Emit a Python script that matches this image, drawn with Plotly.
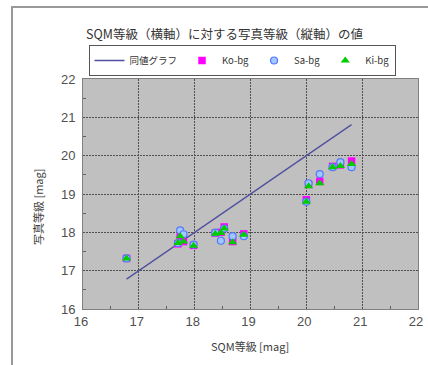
import plotly.graph_objects as go

sqm = [16.78, 17.70, 17.74, 17.80, 17.98, 18.37, 18.47, 18.53, 18.68, 18.88,
       20.00, 20.04, 20.24, 20.47, 20.61, 20.81]
ko_bg = [17.32, 17.70, 17.92, 17.76, 17.66, 17.98, 18.00, 18.14, 17.76, 17.96,
         18.85, 19.25, 19.33, 19.72, 19.76, 19.86]
sa_bg = [17.32, 17.72, 18.05, 17.95, 17.68, 17.99, 17.78, 18.10, 17.90, 17.90,
         18.80, 19.28, 19.52, 19.70, 19.83, 19.70]
ki_bg = [17.32, 17.72, 17.90, 17.76, 17.65, 17.96, 17.98, 18.10, 17.74, 17.94,
         18.80, 19.20, 19.28, 19.70, 19.73, 19.78]
line_x = [16.78, 20.81]
line_y = [16.78, 20.81]

jp = "Noto Sans CJK JP"
W, H = 428, 365
L, T = 83, 79
R = W - 418
B = H - 309
PW, PH = W - L - R, H - T - B


def px_x(p):
    return (p - L) / PW


def px_y(p):
    return (H - B - p) / PH


fig = go.Figure()
fig.add_trace(go.Scatter(x=line_x, y=line_y, mode="lines", name="同値グラフ",
                         line=dict(color="#5050A0", width=1.3)))
fig.add_trace(go.Scatter(x=sqm, y=ko_bg, mode="markers", name="Ko-bg",
                         marker=dict(symbol="square", size=7.5, color="#FF00FF",
                                     line=dict(width=0))))
fig.add_trace(go.Scatter(x=sqm, y=sa_bg, mode="markers", name="Sa-bg",
                         marker=dict(symbol="circle", size=7, color="#A0C8FF",
                                     line=dict(width=1.2, color="#5577FF"))))
fig.add_trace(go.Scatter(x=sqm, y=ki_bg, mode="markers", name="Ki-bg",
                         marker=dict(symbol="triangle-up", size=8, color="#00CC00",
                                     line=dict(width=0))))

axis_common = dict(
    showgrid=True, gridcolor="#505050", griddash="2px,1px", gridwidth=1,
    showline=True, linecolor="#808080", linewidth=1, mirror=True,
    zeroline=False, ticks="", dtick=1, automargin=False,
    ticklabeloverflow="allow",
    tickfont=dict(family="Liberation Sans", size=13, color="#505050"),
    minor=dict(ticks="inside", dtick=0.5, ticklen=3, tickcolor="#606060", showgrid=False),
)
fig.update_xaxes(range=[16, 22], tick0=16, ticklabelshift=-2, **axis_common)
fig.update_yaxes(range=[16, 22], tick0=16, ticklabelstandoff=4, **axis_common)

fig.update_layout(
    width=W, height=H,
    margin=dict(l=L, r=R, t=T, b=B, autoexpand=False),
    paper_bgcolor="white", plot_bgcolor="#C0C0C0",
    legend=dict(orientation="h", x=px_x(242), xanchor="center", y=px_y(45), yanchor="top",
                bgcolor="white", bordercolor="#555555", borderwidth=1,
                font=dict(family=jp, size=9.5, color="#333333"),
                itemwidth=30, tracegroupgap=0),
    showlegend=True,
    annotations=[
        dict(text="SQM等級（横軸）に対する写真等級（縦軸）の値", xref="paper", yref="paper",
             x=px_x(224), y=px_y(33), xanchor="center", yanchor="middle", showarrow=False,
             font=dict(family=jp, size=12.5, color="#333333")),
        dict(text="SQM等級 [mag]", xref="paper", yref="paper",
             x=px_x(250), y=px_y(346), xanchor="center", yanchor="middle", showarrow=False,
             font=dict(family=jp, size=11, color="#404040")),
        dict(text="写真等級 [mag]", xref="paper", yref="paper", textangle=-90,
             x=px_x(38), y=px_y(207), xanchor="center", yanchor="middle", showarrow=False,
             font=dict(family=jp, size=11, color="#404040")),
    ],
    shapes=[dict(type="rect", xref="paper", yref="paper",
                 x0=px_x(12), x1=1.2, y0=-0.4, y1=px_y(7),
                 line=dict(color="#999999", width=2), fillcolor="rgba(0,0,0,0)", layer="below")],
)
fig.write_html("out.html", config={"displayModeBar": False},
               post_script="document.body.style.margin='0px';document.body.style.overflow='hidden';")
